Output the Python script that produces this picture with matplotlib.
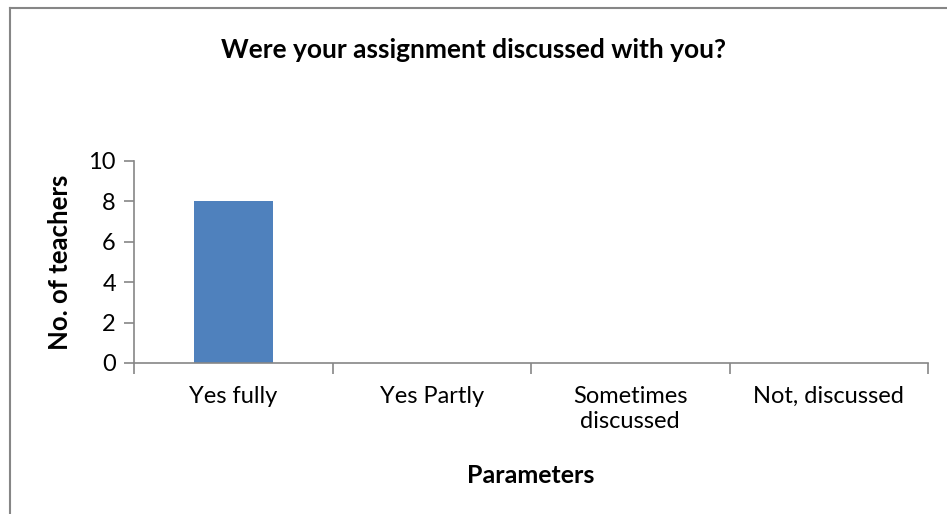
import matplotlib.pyplot as plt
from matplotlib.lines import Line2D

categories = ['Yes fully', 'Yes Partly', 'Sometimes\ndiscussed', 'Not, discussed']
teachers = [8, 0, 0, 0]
yticks = [0, 2, 4, 6, 8, 10]

plt.rcParams['font.family'] = ['Lato', 'DejaVu Sans']
axis_grey = '#868686'

fig = plt.figure(figsize=(9.47, 5.14), dpi=100)
ax = fig.add_axes([0.1415, 0.2938, 0.8385, 0.3936])

x = list(range(len(categories)))
ax.bar(x, teachers, width=0.4, color='#4F81BD')

ax.set_xlim(-0.5, len(categories) - 0.5)
ax.set_ylim(0, 10)
ax.set_yticks(yticks)

# ticks between categories, labels at centres
ax.set_xticks([i - 0.5 for i in range(len(categories) + 1)])
ax.set_xticklabels([])
ax.set_xticks(x, minor=True)
ax.set_xticklabels(categories, minor=True, fontsize=17, linespacing=1.25)
ax.tick_params(axis='x', which='minor', length=0, pad=16.5)
ax.tick_params(axis='x', which='major', length=8, color=axis_grey, width=1.2)
ax.tick_params(axis='y', length=7, color=axis_grey, width=1.2, labelsize=17, pad=6)

for s in ['top', 'right']:
    ax.spines[s].set_visible(False)
for s in ['left', 'bottom']:
    ax.spines[s].set_color(axis_grey)
    ax.spines[s].set_linewidth(1.2)

ax.set_ylabel('No. of teachers', fontsize=18.5, fontweight='bold')
ax.yaxis.set_label_coords(-0.078, 0.5)
ax.set_xlabel('Parameters', fontsize=18, fontweight='bold')
ax.xaxis.set_label_coords(0.5, -0.5)
fig.text(0.5, 1 - 58 / 514, 'Were your assignment discussed with you?',
         ha='center', va='baseline', fontsize=19, fontweight='bold')

# chart frame (only left and top edges are inside the picture)
fig.add_artist(Line2D([10 / 947, 10 / 947], [0, 1 - 8 / 514], transform=fig.transFigure,
                      color=axis_grey, linewidth=1.5))
fig.add_artist(Line2D([10 / 947, 1], [1 - 8 / 514, 1 - 8 / 514], transform=fig.transFigure,
                      color=axis_grey, linewidth=1.5))

fig.savefig('out.png', dpi=100)
